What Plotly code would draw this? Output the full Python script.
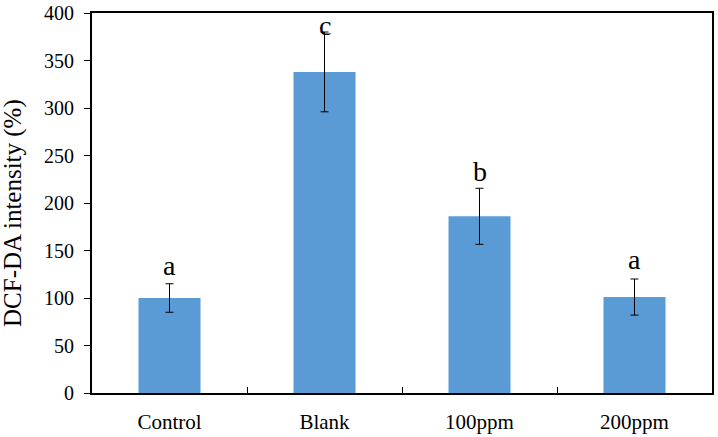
import plotly.graph_objects as go

categories = ["Control", "Blank", "100ppm", "200ppm"]
values = [100, 338, 186, 101]
errors = [15, 42, 29.5, 19]
letters = ["a", "c", "b", "a"]
y_ticks = [0, 50, 100, 150, 200, 250, 300, 350, 400]
y_title = "DCF-DA intensity (%)"

FONT = "Liberation Serif"
letter_shift = [1, -11, -1, 2]

fig = go.Figure()
fig.add_trace(go.Bar(
    x=categories, y=values,
    marker=dict(color="#5B9BD5", line=dict(width=0)),
    width=0.4,
    error_y=dict(type="data", array=errors, visible=True,
                 color="black", thickness=1, width=4),
))

for c, v, e, t, s in zip(categories, values, errors, letters, letter_shift):
    fig.add_annotation(x=c, y=v + e, text=t, showarrow=False,
                       yanchor="bottom", yshift=s,
                       font=dict(family=FONT, size=28, color="black"))

# y-axis title as rotated annotation
fig.add_annotation(xref="paper", yref="paper", x=0, y=0.5,
                   xanchor="center", yanchor="middle",
                   xshift=-79, yshift=-10, textangle=-90,
                   text=y_title, showarrow=False,
                   font=dict(family=FONT, size=25, color="black"))

fig.update_layout(
    width=718, height=437,
    margin=dict(l=92, r=6, t=13, b=44, autoexpand=False),
    plot_bgcolor="white", paper_bgcolor="white",
    showlegend=False,
    font=dict(family=FONT, size=20, color="black"),
    bargap=0.6,
)
fig.update_xaxes(
    showline=True, linecolor="black", linewidth=2, mirror=True,
    ticks="inside", ticklen=6, tickcolor="black", tickwidth=1,
    tickson="boundaries", showgrid=False, automargin=False,
    ticklabelstandoff=9,
    tickfont=dict(family=FONT, size=21, color="black"),
)
fig.update_yaxes(
    range=[0, 400], tickvals=y_ticks,
    showline=True, linecolor="black", linewidth=2, mirror=True,
    ticks="outside", ticklen=6, tickcolor="black", tickwidth=1,
    ticklabelstandoff=6, automargin=False,
    showgrid=False, zeroline=False,
    tickfont=dict(family=FONT, size=20, color="black"),
)

fig.write_html("out.html", config={"displayModeBar": False},
               post_script="document.body.style.margin='0px';")
